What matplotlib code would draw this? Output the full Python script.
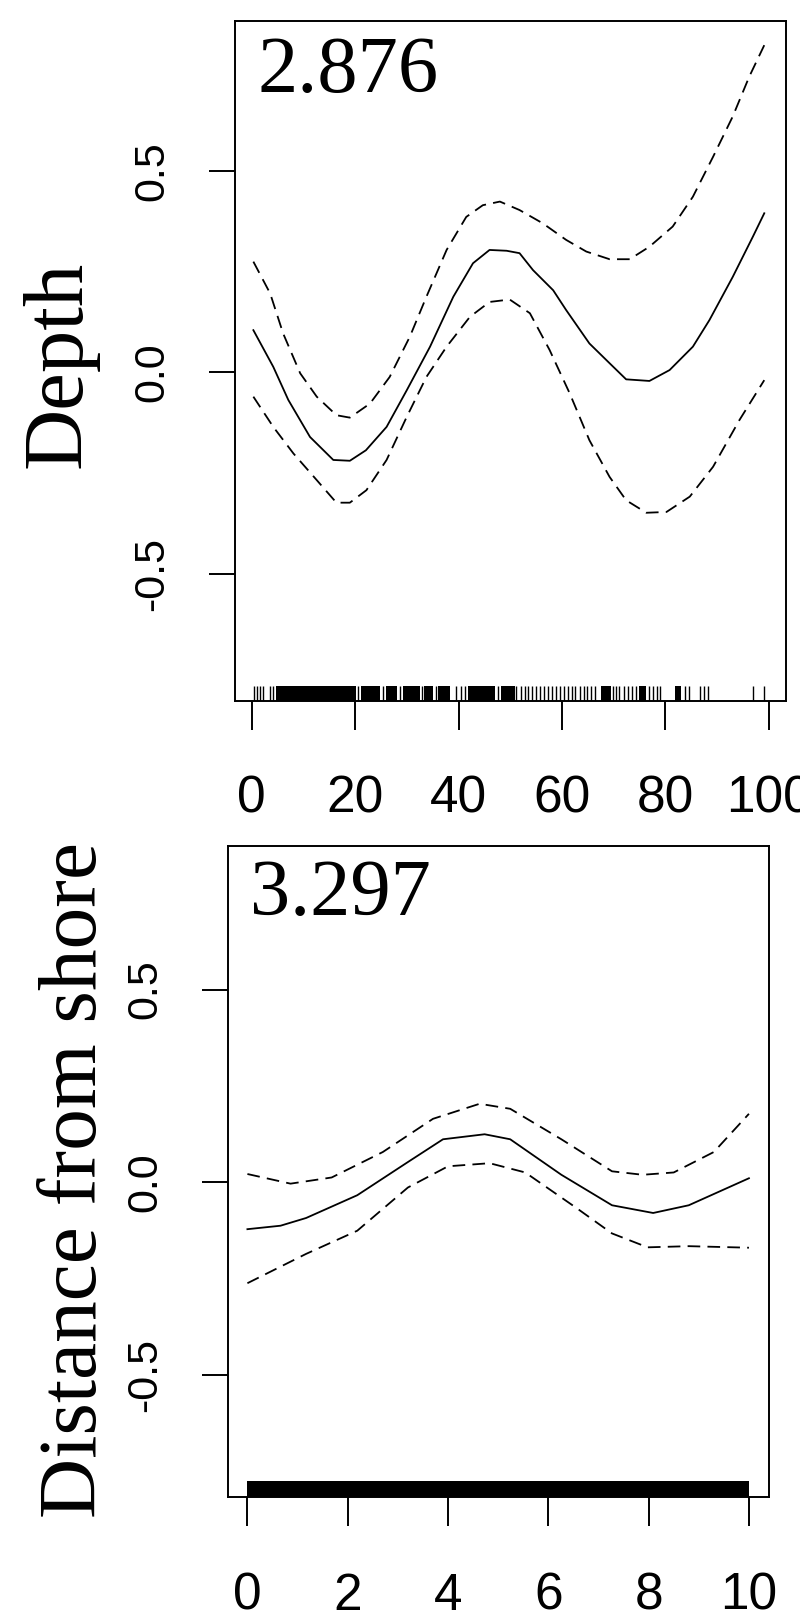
import matplotlib
matplotlib.use('Agg')
import matplotlib.pyplot as plt

# 数据：Depth 平滑项 (拟合值与上下置信带)
depth_fit_x = [0.35, 4.2, 7.1, 11.3, 15.8, 19.0, 22.1, 26.1, 30.0, 34.5, 39.0, 42.8, 46.0, 49.3, 51.8,
               54.4, 58.3, 60.8, 65.3, 69.2, 72.4, 76.9, 80.8, 85.3, 88.5, 93.0, 96.9, 99.1]
depth_fit_y = [0.105, 0.014, -0.068, -0.16, -0.217, -0.219, -0.193, -0.135, -0.044, 0.064, 0.188, 0.271,
               0.304, 0.302, 0.296, 0.254, 0.204, 0.155, 0.072, 0.023, -0.017, -0.021, 0.006, 0.064,
               0.130, 0.237, 0.337, 0.395]
depth_up_x = [0.35, 3.6, 6.1, 9.4, 12.6, 16.4, 19.0, 22.9, 26.7, 30.6, 33.8, 37.7, 41.5, 44.7, 48.0,
              51.8, 56.3, 60.8, 64.7, 69.2, 73.1, 76.9, 81.4, 85.3, 89.2, 93.0, 96.2, 99.1]
depth_up_y = [0.275, 0.196, 0.097, -0.002, -0.060, -0.106, -0.112, -0.077, -0.011, 0.089, 0.188, 0.304,
              0.386, 0.415, 0.424, 0.403, 0.370, 0.329, 0.300, 0.281, 0.281, 0.312, 0.362, 0.436,
              0.535, 0.635, 0.734, 0.812]
depth_lo_x = [0.35, 4.2, 8.1, 12.6, 16.4, 19.0, 22.2, 26.1, 30.0, 33.8, 37.7, 42.2, 46.0, 49.9,
              53.8, 57.6, 61.5, 65.3, 69.2, 72.4, 76.3, 80.2, 84.7, 89.2, 94.3, 99.1]
depth_lo_y = [-0.060, -0.135, -0.201, -0.267, -0.323, -0.323, -0.292, -0.217, -0.110, -0.011, 0.064,
              0.138, 0.175, 0.181, 0.147, 0.056, -0.052, -0.168, -0.259, -0.317, -0.348, -0.346,
              -0.308, -0.234, -0.118, -0.019]

# Depth 的 rug（单根刻度 + 密集区段）
depth_rug_ticks = [0.5, 1.1, 1.7, 2.3, 3.6, 4.1, 20.6, 25.4, 28.7, 32.9, 35.6, 39.6, 40.4, 41.2, 47.6,
                   51.2, 52.0, 52.8, 53.5, 54.2, 55.0, 55.8, 56.5, 57.3, 58.0, 58.8, 59.6, 60.3, 61.1,
                   61.9, 62.6, 63.4, 64.2, 64.9, 65.7, 66.4, 69.9, 70.5, 71.1, 71.9, 72.7, 73.6, 74.4,
                   76.8, 77.6, 78.4, 79.0, 83.7, 84.5, 86.6, 87.4, 88.2, 96.9, 99.1]
depth_rug_spans = [(4.7, 20.2), (21.1, 24.9), (25.9, 28.1), (29.3, 32.5), (33.3, 35.1), (36.1, 38.3),
                   (41.9, 47.0), (48.2, 50.9), (67.6, 69.4), (74.9, 76.3), (81.8, 83.1)]

# 数据：Distance from shore 平滑项
dist_fit_x = [0, 0.66, 1.17, 2.19, 3.2, 3.9, 4.73, 5.24, 6.26, 7.27, 8.09, 8.8, 10]
dist_fit_y = [-0.121, -0.112, -0.092, -0.033, 0.053, 0.112, 0.125, 0.112, 0.02, -0.059, -0.079, -0.059, 0.011]
dist_up_x = [0, 0.86, 1.68, 2.7, 3.7, 4.63, 5.24, 6.26, 7.27, 7.88, 8.5, 9.3, 10]
dist_up_y = [0.022, -0.003, 0.013, 0.079, 0.165, 0.204, 0.191, 0.112, 0.029, 0.02, 0.026, 0.079, 0.178]
dist_lo_x = [0, 1.17, 2.19, 3.2, 4.0, 4.83, 5.54, 6.56, 7.27, 7.98, 8.8, 10]
dist_lo_y = [-0.261, -0.185, -0.125, -0.013, 0.042, 0.05, 0.026, -0.066, -0.132, -0.168, -0.165, -0.169]
dist_rug_spans = [(0, 10)]

depth_xticks = [0, 20, 40, 60, 80, 100]
dist_xticks = [0, 2, 4, 6, 8, 10]
yticks = [-0.5, 0.0, 0.5]
ytick_labels = ['-0.5', '0.0', '0.5']

panel_labels = ['Depth', 'Distance from shore']
edf_labels = ['2.876', '3.297']

tick_font = ['Liberation Sans Narrow', 'Liberation Sans', 'DejaVu Sans']
serif_font = ['Liberation Serif', 'DejaVu Serif']

W, H = 800, 1621
fig = plt.figure(figsize=(W / 100, H / 100), dpi=100)

# 坐标轴位置（像素 -> 比例）
def axes_rect(l, r, t, b):
    return [l / W, 1 - b / H, (r - l) / W, (b - t) / H]

ax1 = fig.add_axes(axes_rect(235, 786, 21, 701))
ax2 = fig.add_axes(axes_rect(228, 769, 846, 1497))

dash = (7, 4)

def draw_panel(ax, fx, fy, ux, uy, lx, ly, xlim, xticks, xpad):
    ax.plot(fx, fy, color='black', lw=1.3)
    ax.plot(ux, uy, color='black', lw=1.3, dashes=dash)
    ax.plot(lx, ly, color='black', lw=1.3, dashes=dash)
    ax.set_xlim(*xlim)
    ax.set_ylim(-0.815, 0.872)
    ax.set_xticks(xticks)
    ax.set_xticklabels([str(t) for t in xticks], fontsize=37, family=tick_font)
    ax.set_yticks(yticks)
    ax.set_yticklabels(ytick_labels, fontsize=31, family=tick_font, rotation=90, va='center')
    ax.tick_params(axis='x', length=21, width=1.4, pad=xpad)
    ax.tick_params(axis='y', length=19, width=1.4, pad=26)
    for sp in ax.spines.values():
        sp.set_linewidth(1.4)

draw_panel(ax1, depth_fit_x, depth_fit_y, depth_up_x, depth_up_y, depth_lo_x, depth_lo_y,
           (-3.2, 103.3), depth_xticks, 32)
draw_panel(ax2, dist_fit_x, dist_fit_y, dist_up_x, dist_up_y, dist_lo_x, dist_lo_y,
           (-0.387, 10.4), dist_xticks, 33)

# rug
ax1.vlines(depth_rug_ticks, 0, 0.022, color='black', lw=1.0, transform=ax1.get_xaxis_transform())
for a, b in depth_rug_spans:
    ax1.axvspan(a, b, ymin=0, ymax=0.022, color='black', lw=0)
for a, b in dist_rug_spans:
    ax2.axvspan(a, b, ymin=0, ymax=0.025, color='black', lw=0)

# 左上角 edf 数值
ax1.text(0.0417, 0.8956, edf_labels[0], transform=ax1.transAxes, ha='left', va='baseline',
         fontsize=58, family=serif_font)
ax2.text(0.0407, 0.894, edf_labels[1], transform=ax2.transAxes, ha='left', va='baseline',
         fontsize=58, family=serif_font)

# 纵轴标题
fig.text(60 / W, 1 - 364 / H, panel_labels[0], rotation=90, ha='center', va='center',
         fontsize=61, family=serif_font)
fig.text(76 / W, 1 - 1180 / H, panel_labels[1], rotation=90, ha='center', va='center',
         fontsize=60, family=serif_font)

fig.savefig('out.png', dpi=100)
